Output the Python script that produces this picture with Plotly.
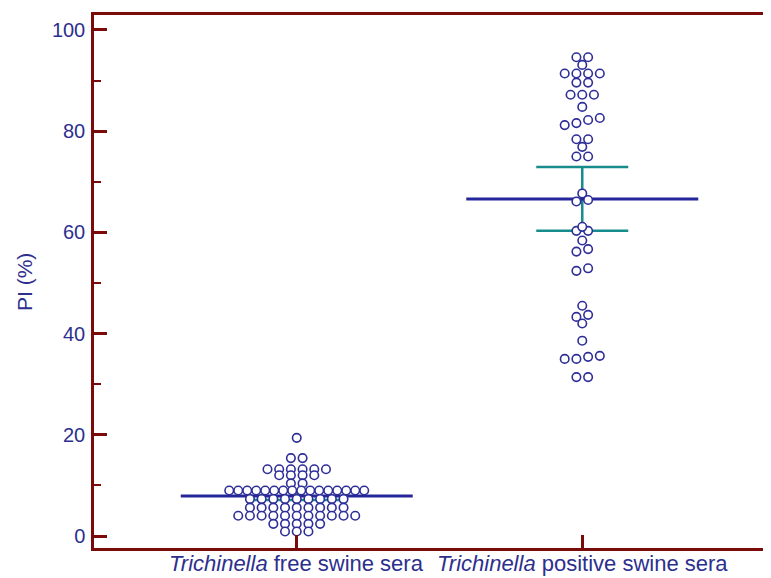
import plotly.graph_objects as go
import numpy as np

# ---------------- data ----------------
categories = ["<i>Trichinella</i> free swine sera", "<i>Trichinella</i> positive swine sera"]
cat_pos = [1, 2]

free_values = [
    19.4,
    15.4, 15.4,
    13.2, 13.2, 13.2, 13.2, 13.2, 13.2,
    12.0, 12.0, 12.0, 12.0,
    10.4, 10.4,
    9.0, 9.0, 9.0, 9.0, 9.0, 9.0, 9.0, 9.0, 9.0, 9.0, 9.0, 9.0, 9.0, 9.0, 9.0, 9.0,
    7.3, 7.3, 7.3, 7.3, 7.3, 7.3, 7.3, 7.3, 7.3,
    5.6, 5.6, 5.6, 5.6, 5.6, 5.6, 5.6, 5.6, 5.6,
    4.0, 4.0, 4.0, 4.0, 4.0, 4.0, 4.0, 4.0, 4.0, 4.0, 4.0,
    2.4, 2.4, 2.4, 2.4, 2.4,
    0.9, 0.9, 0.9,
]

positive_values = [
    94.6, 94.6,
    93.1,
    91.4, 91.4, 91.4, 91.4,
    89.6, 89.6,
    87.2, 87.2, 87.2,
    84.8,
    81.2, 81.6, 82.2, 82.6,
    78.4, 78.4,
    76.9,
    75.0, 75.0,
    67.7,
    66.1, 66.4,
    60.3, 60.3, 61.1,
    58.4,
    56.2, 56.7,
    52.4, 52.9,
    45.5,
    43.3, 43.7,
    42.0,
    38.6,
    35.0, 35.0, 35.4, 35.6,
    31.4, 31.4,
]

free_mean = 7.9
free_ci = [7.1, 8.9]
positive_mean = 66.6
positive_ci = [60.3, 72.9]

y_ticks = [0, 20, 40, 60, 80, 100]

# ---------------- styling / geometry ----------------
# page body has an 8px margin, so the figure is 8px smaller than the window
W, H = 763, 570
ML, MR, MT, MB = 86, 0, 7, 30
x_range = [0.290, 2.661]
y_range = [-2.37, 102.96]
plot_w = W - ML - MR
plot_h = H - MT - MB
px_per_x = plot_w / (x_range[1] - x_range[0])

navy = "#26269c"
teal = "#168c8c"
maroon = "#7a0b0b"
marker_col = "#2e2e98"
label_col = "#2d2f8e"
font_family = "Liberation Sans, Arial, sans-serif"


def row_offsets(values, spacing_px=11.7, max_width_px=135, tol=0.8):
    """Dot-plot layout: values close together form a row, centred on the category."""
    vals = np.asarray(values, dtype=float)
    order = np.argsort(vals, kind="stable")
    offsets = np.zeros(len(vals))
    rows, cur = [], [order[0]]
    for a, b in zip(order[:-1], order[1:]):
        if vals[b] - vals[a] <= tol:
            cur.append(b)
        else:
            rows.append(cur)
            cur = [b]
    rows.append(cur)
    for r in rows:
        n = len(r)
        s = spacing_px if n < 2 else min(spacing_px, max_width_px / (n - 1))
        for i, idx in enumerate(r):
            offsets[idx] = (i - (n - 1) / 2) * s / px_per_x
    return offsets


mean_half = 116 / px_per_x
cap_half = 46 / px_per_x

fig = go.Figure()

groups = [
    (cat_pos[0], free_values, free_mean, free_ci),
    (cat_pos[1], positive_values, positive_mean, positive_ci),
]

for c, vals, m, ci in groups:
    # confidence interval (teal)
    fig.add_trace(go.Scatter(
        x=[c - cap_half, c + cap_half, None, c - cap_half, c + cap_half, None, c, c],
        y=[ci[1], ci[1], None, ci[0], ci[0], None, ci[0], ci[1]],
        mode="lines", line=dict(color=teal, width=2.5),
        hoverinfo="skip", showlegend=False,
    ))
    # mean line (navy)
    fig.add_trace(go.Scatter(
        x=[c - mean_half, c + mean_half], y=[m, m],
        mode="lines", line=dict(color=navy, width=3),
        hoverinfo="skip", showlegend=False,
    ))

for c, vals, m, ci in groups:
    offs = row_offsets(vals)
    fig.add_trace(go.Scatter(
        x=c + offs, y=vals, mode="markers",
        marker=dict(symbol="circle", size=8.5, color="white",
                    line=dict(color=marker_col, width=1.6)),
        showlegend=False,
    ))

fig.update_layout(
    width=W, height=H,
    margin=dict(l=ML, r=MR, t=MT, b=MB, pad=0, autoexpand=False),
    paper_bgcolor="white", plot_bgcolor="white",
    font=dict(family=font_family, color=label_col),
    showlegend=False,
)

fig.update_xaxes(
    range=x_range, tickmode="array", tickvals=cat_pos, showticklabels=False,
    showgrid=False, zeroline=False,
    showline=True, linecolor=maroon, linewidth=2.5, mirror=True,
    ticks="inside", ticklen=13, tickwidth=2.5, tickcolor=maroon,
    automargin=False,
)

fig.update_yaxes(
    range=y_range, tickmode="array", tickvals=y_ticks,
    showgrid=False, zeroline=False,
    showline=True, linecolor=maroon, linewidth=2.5, mirror=False,
    ticks="inside", ticklen=13, tickwidth=2.5, tickcolor=maroon,
    tickfont=dict(size=20, color=label_col, family=font_family),
    minor=dict(ticks="inside", ticklen=7, tickwidth=2, tickcolor=maroon, dtick=10, showgrid=False),
    ticklabelstandoff=2,
    automargin=False,
)

# category labels below the axis
for c, label in zip(cat_pos, categories):
    fig.add_annotation(
        text=label, x=c, xref="x", y=-15 / plot_h, yref="paper",
        xanchor="center", yanchor="middle", showarrow=False,
        font=dict(size=22, color=label_col, family=font_family),
    )

fig.add_annotation(
    text="PI (%)", textangle=-90,
    xref="paper", yref="paper",
    x=(23 - 93) / plot_w, y=(548 - 282) / plot_h,
    xanchor="center", yanchor="middle", showarrow=False,
    font=dict(size=21, color=label_col, family=font_family),
)

fig.write_html("out.html")
